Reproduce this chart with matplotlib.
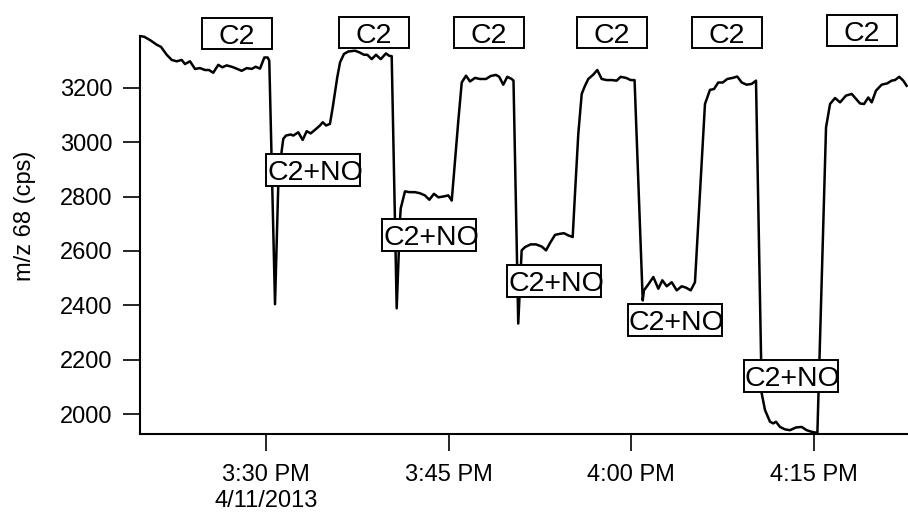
import pandas as pd
import matplotlib
matplotlib.use("Agg")
import matplotlib.pyplot as plt
import matplotlib.dates as mdates
from matplotlib.patches import Rectangle
from matplotlib.transforms import IdentityTransform
from matplotlib.ticker import FixedLocator, FuncFormatter

plt.rcParams['font.family'] = ['Liberation Sans', 'DejaVu Sans']

# minutes after 3:30 PM, 4/11/2013
minutes = [
    -10.22, -9.99, -9.52, -8.97, -8.62, -8.15, -7.74, -7.33, -6.92, -6.65,
    -6.24, -5.83, -5.42, -5.01, -4.68, -4.33, -3.92, -3.59, -3.23, -2.82,
    -2.41, -2.00, -1.58, -1.17, -0.85, -0.49, -0.14, 0.14, 0.27,
    0.74, 1.01, 1.29, 1.42, 1.64, 2.03, 2.24, 2.65, 3.01, 3.34, 3.67,
    4.02, 4.43, 4.66, 4.93, 5.25, 5.48, 5.85, 6.08, 6.40, 6.76, 7.31,
    7.66, 8.05, 8.32, 8.68, 9.03, 9.42, 9.85, 10.12, 10.32,
    10.73, 11.00, 11.06, 11.41, 11.77, 12.23, 12.64, 13.05, 13.41, 13.79,
    14.15, 14.56, 14.97, 15.25, 15.52, 15.79, 16.07, 16.42, 16.75, 17.16,
    17.57, 18.06, 18.45, 18.88, 19.15, 19.48, 19.81, 20.17, 20.32,
    20.71, 20.99, 21.26, 21.73, 22.17, 22.64, 22.99, 23.32, 23.73, 24.14,
    24.47, 24.82, 25.18, 25.37, 25.64, 25.92, 26.19, 26.46, 26.87, 27.20,
    27.56, 27.97, 28.38, 28.79, 29.12, 29.56, 29.94, 30.26,
    30.93, 31.03, 31.39, 31.80, 32.21, 32.54, 32.90, 33.31, 33.72, 34.13,
    34.48, 34.87, 35.22, 35.63, 36.04, 36.45, 36.78, 37.13, 37.50, 37.87,
    38.32, 38.69, 39.06, 39.47, 39.88, 40.23,
    40.70, 40.97, 41.38, 41.65, 41.87, 42.20, 42.61, 43.02, 43.51, 43.98,
    44.39, 44.80, 45.27, 45.98, 46.31, 46.72, 47.13, 47.62, 48.09, 48.44,
    48.77, 49.10, 49.45, 49.73, 50.08, 50.55, 51.01, 51.37, 51.64, 51.99,
    52.32, 52.60,
]
counts = [
    3389, 3387, 3375, 3358, 3350, 3321, 3302, 3297, 3302, 3287,
    3297, 3269, 3272, 3265, 3265, 3255, 3284, 3275, 3282, 3277,
    3270, 3262, 3272, 3269, 3277, 3270, 3311, 3311, 3299,
    2404, 2848, 2969, 3012, 3024, 3028, 3024, 3036, 3008, 3040, 3032,
    3045, 3061, 3073, 3061, 3067, 3128, 3238, 3293, 3324, 3333, 3336,
    3330, 3321, 3321, 3305, 3321, 3305, 3326, 3317, 3316,
    2389, 2712, 2756, 2819, 2816, 2816, 2812, 2804, 2788, 2810,
    2797, 2800, 2804, 2785, 2932, 3079, 3219, 3244, 3223, 3236,
    3232, 3232, 3243, 3247, 3240, 3211, 3240, 3232, 3226,
    2333, 2602, 2614, 2624, 2624, 2616, 2602, 2629, 2659, 2663,
    2665, 2657, 2651, 2811, 3030, 3177, 3207, 3232, 3248, 3265,
    3232, 3228, 3228, 3226, 3240, 3236, 3228, 3228,
    2418, 2455, 2477, 2504, 2461, 2492, 2470, 2485, 2455, 2470,
    2465, 2455, 2485, 2810, 3140, 3192, 3195, 3219, 3219, 3232,
    3236, 3241, 3219, 3211, 3214, 3226,
    2076, 2015, 1972, 1966, 1972, 1953, 1944, 1941, 1951, 1953,
    1941, 1935, 1931, 3054, 3140, 3162, 3146, 3171, 3177, 3159,
    3142, 3140, 3164, 3146, 3189, 3211, 3216, 3226, 3228, 3240,
    3226, 3207,
]

# condition labels
c2_minutes = [-2.38, 8.88, 18.31, 28.38, 37.82, 48.91]
c2_counts = [3398, 3402, 3402, 3402, 3402, 3409]
no_minutes = [3.86, 13.42, 23.65, 33.58, 43.10]
no_counts = [2899, 2660, 2490, 2347, 2141]

start = pd.Timestamp('2013-04-11 15:30')


def to_num(mins):
    t = start + pd.to_timedelta(mins, unit='min')
    return mdates.date2num(pd.DatetimeIndex(t).to_pydatetime())


x = to_num(minutes)

fig = plt.figure(figsize=(9.08, 5.16), dpi=100)
ax = fig.add_axes([140 / 908, 82 / 516, 768 / 908, 398 / 516])

ax.plot(x, counts, color='black', lw=1.8, clip_on=False, zorder=2)

ax.set_xlim(to_num([-10.345, 52.71]))
ax.set_ylim(1927, 3390)

ax.spines['top'].set_visible(False)
ax.spines['right'].set_visible(False)
ax.spines['left'].set_linewidth(1.5)
ax.spines['bottom'].set_linewidth(1.5)

tick_min = [0, 15, 30, 45]
ax.xaxis.set_major_locator(FixedLocator(to_num(tick_min)))


def time_label(val, pos):
    d = mdates.num2date(val)
    s = d.strftime('%I:%M %p').lstrip('0')
    if pos == 0:
        s += '\n' + '%d/%d/%d' % (d.month, d.day, d.year)
    return s


ax.xaxis.set_major_formatter(FuncFormatter(time_label))
ax.set_yticks([2000, 2200, 2400, 2600, 2800, 3000, 3200])
ax.tick_params(direction='out', length=12.5, width=1.2, labelsize=17, colors='black')
ax.tick_params(axis='x', pad=9)
ax.tick_params(axis='y', pad=7.5)
for lbl in ax.get_xticklabels():
    lbl.set_linespacing(1.25)

fig.text(25 / 908, 1 - 216 / 516, 'm/z 68 (cps)', rotation=90,
         ha='center', va='center', fontsize=17)

ident = IdentityTransform()
box_fs = 20.5
cap = 0.716 * box_fs * 100 / 72


def label_box(xm, yc, text, w, h, left_text=False):
    cx, cy = ax.transData.transform((to_num([xm])[0], yc))
    fig.add_artist(Rectangle((cx - w / 2, cy - h / 2), w, h, transform=ident,
                             facecolor='white', edgecolor='black', lw=1.4,
                             zorder=5))
    if left_text:
        fig.text(cx - w / 2 + 1, cy - cap / 2, text, transform=ident,
                 ha='left', va='baseline', fontsize=box_fs, zorder=6)
    else:
        fig.text(cx, cy - cap / 2, text, transform=ident,
                 ha='center', va='baseline', fontsize=box_fs, zorder=6)


for m, c in zip(c2_minutes, c2_counts):
    label_box(m, c, 'C2', 70, 31)
for m, c in zip(no_minutes, no_counts):
    label_box(m, c, 'C2+NO', 94, 32, left_text=True)

fig.savefig('out.png', dpi=100)
